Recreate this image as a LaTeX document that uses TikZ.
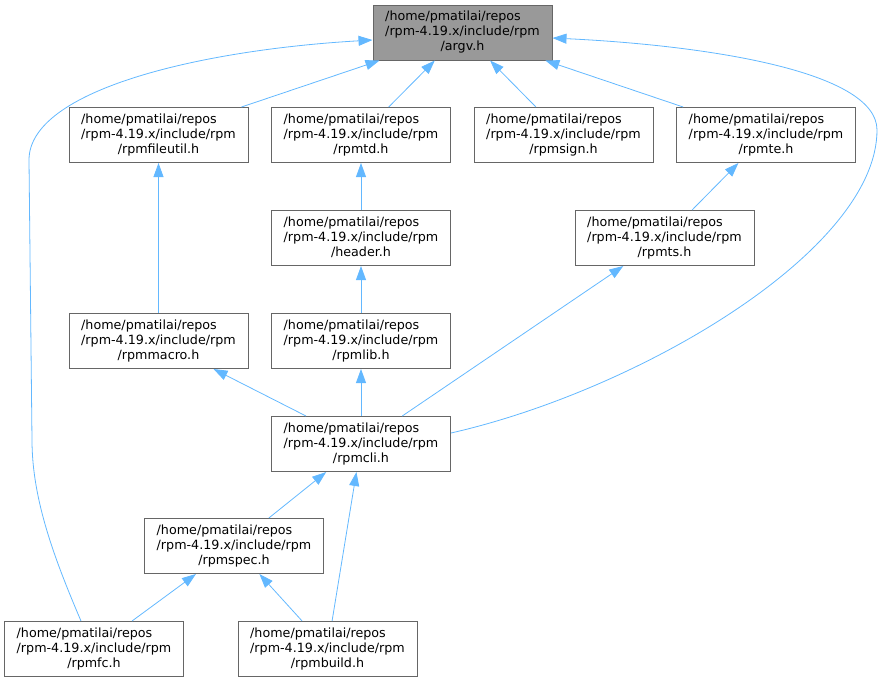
\documentclass[tikz,border=0pt]{standalone}
\usepackage{fontspec}
\setmainfont{DejaVu Sans}
\usetikzlibrary{arrows.meta}
\definecolor{edgeblue}{HTML}{63B8FF}
\definecolor{boxgray}{HTML}{666666}
\definecolor{rootgray}{HTML}{999999}
\newcommand{\rpmfile}[1]{\renewcommand{\arraystretch}{1}%
  \begin{tabular}{@{}l@{}}/home/pmatilai/repos\\/rpm-4.19.x/include/rpm\\
  \multicolumn{1}{@{}c@{}}{/#1}\end{tabular}}
\begin{document}
\begin{tikzpicture}[x=1pt, y=-1pt]
    \tikzstyle{file}=[draw=boxgray, line width=1pt, fill=white, inner sep=0pt,
      minimum width=179pt, minimum height=55pt, font=\fontsize{12.7}{15}\selectfont]
    \tikzstyle{dep}=[draw=edgeblue, line width=0.8pt, -{Triangle[length=14pt, width=10pt]}]
    \useasboundingbox (0,0) rectangle (883,681);
    % header files, top to bottom
    \node[file, fill=rootgray] (argv) at (462.5,32.5) {\rpmfile{argv.h}};
    \node[file] (rpmfileutil) at (158.5,135) {\rpmfile{rpmfileutil.h}};
    \node[file] (rpmtd) at (361,135) {\rpmfile{rpmtd.h}};
    \node[file] (rpmsign) at (563.5,135) {\rpmfile{rpmsign.h}};
    \node[file] (rpmte) at (766,135) {\rpmfile{rpmte.h}};
    \node[file] (header) at (361,238) {\rpmfile{header.h}};
    \node[file] (rpmts) at (664.5,238) {\rpmfile{rpmts.h}};
    \node[file] (rpmmacro) at (158.5,341) {\rpmfile{rpmmacro.h}};
    \node[file] (rpmlib) at (361,341) {\rpmfile{rpmlib.h}};
    \node[file] (rpmcli) at (361,444) {\rpmfile{rpmcli.h}};
    \node[file] (rpmspec) at (234,546) {\rpmfile{rpmspec.h}};
    \node[file] (rpmfc) at (94,649) {\rpmfile{rpmfc.h}};
    \node[file] (rpmbuild) at (327.5,649) {\rpmfile{rpmbuild.h}};
    % includes
    \draw[dep] (rpmfileutil) -- (argv);
    \draw[dep] (rpmtd) -- (argv);
    \draw[dep] (rpmsign) -- (argv);
    \draw[dep] (rpmte) -- (argv);
    \draw[dep] (header) -- (rpmtd);
    \draw[dep] (rpmlib) -- (header);
    \draw[dep] (rpmts) -- (rpmte);
    \draw[dep] (rpmmacro) -- (rpmfileutil);
    \draw[dep] (rpmcli) -- (rpmmacro);
    \draw[dep] (rpmcli) -- (rpmlib);
    \draw[dep] (rpmcli) -- (rpmts);
    \draw[dep] (rpmspec) -- (rpmcli);
    \draw[dep] (rpmbuild) -- (rpmcli);
    \draw[dep] (rpmfc) -- (rpmspec);
    \draw[dep] (rpmbuild) -- (rpmspec);
    \draw[dep] ([xshift=-13pt]rpmfc.north) .. controls (55,560) and (32,500) .. (32,440)
      -- (29,160) .. controls (29,90) and (200,50) .. ([yshift=-7.5pt]argv.west);
    \draw[dep] ([yshift=-17pt]rpmcli.north east) .. controls (640,390) and (877,250) .. (877,130)
      .. controls (877,70) and (700,45) .. ([yshift=-5.5pt]argv.east);
\end{tikzpicture}
\end{document}
